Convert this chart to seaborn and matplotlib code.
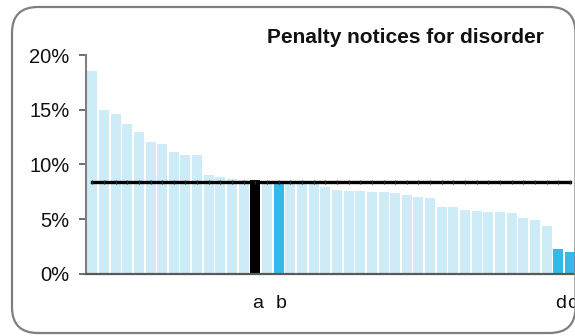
import matplotlib
matplotlib.use("Agg")
import matplotlib.pyplot as plt
import numpy as np
import pandas as pd
import seaborn as sns
from matplotlib.patches import FancyBboxPatch
from matplotlib.ticker import FuncFormatter
from matplotlib.transforms import ScaledTranslation

# Share of penalty notices issued for disorder, one bar per area (sorted)
area_ids = [f"A{i:02d}" for i in range(1, 43)]
disorder_rate = [
    18.6, 14.95, 14.6, 13.75, 13.0, 12.1, 11.9, 11.1, 10.9, 10.9,
    9.0, 8.9, 8.7, 8.62, 8.62, 8.4, 8.4, 8.35, 8.35, 8.3,
    7.98, 7.71, 7.61, 7.61, 7.52, 7.52, 7.43, 7.25, 7.06, 6.97,
    6.15, 6.15, 5.87, 5.78, 5.69, 5.69, 5.6, 5.14, 4.95, 4.4,
    2.29, 2.02,
]
area_labels = [""] * 14 + ["a", "", "b"] + [""] * 23 + ["d", "c"]
area_group = ["other"] * 14 + ["focus", "other", "peer"] + ["other"] * 23 + ["peer", "peer"]
average_rate = [8.38] * 42

group_colors = {"other": "#cdecf8", "focus": "#000000", "peer": "#35b9e9"}

df = pd.DataFrame({
    "area": area_ids,
    "rate": disorder_rate,
    "group": area_group,
    "average": average_rate,
})

plt.rcParams["font.family"] = ["Liberation Sans", "DejaVu Sans"]

fig = plt.figure(figsize=(5.75, 3.36), dpi=100)
ax = fig.add_axes([86 / 575, 62.3 / 336, 530.5 / 575, 218.4 / 336])

sns.barplot(data=df, x="area", y="rate", hue="group", palette=group_colors,
            dodge=False, width=0.86, linewidth=0, saturation=1,
            legend=False, ax=ax, zorder=2)

sns.lineplot(x=np.arange(len(df)), y=df["average"], color="black", lw=2.4,
             marker="|", markersize=3, markeredgewidth=0.8,
             markeredgecolor="#2a2a2a", ax=ax, zorder=3)

ax.set_xlim(-0.54, 45)
ax.set_ylim(0, 20)
ax.set_yticks([0, 5, 10, 15, 20])
ax.yaxis.set_major_formatter(FuncFormatter(lambda v, _: f"{v:.0f}%"))
ax.set_xticks(range(len(area_labels)))
ax.set_xticklabels(area_labels)
ax.set_xlabel("")
ax.set_ylabel("")

ax.tick_params(axis="y", length=5, width=1.2, color="#555555", pad=7,
               labelsize=14.5, labelcolor="#111111")
ax.tick_params(axis="x", length=0, pad=15, labelsize=14, labelcolor="#111111")
shift = ScaledTranslation(2 / 100, 0, fig.dpi_scale_trans)
for lbl in ax.get_xticklabels():
    lbl.set_transform(lbl.get_transform() + shift)

for side in ("top", "right"):
    ax.spines[side].set_visible(False)
ax.spines["left"].set_color("#808080")
ax.spines["left"].set_linewidth(1.5)
ax.spines["bottom"].set_color("#5a5a5a")
ax.spines["bottom"].set_linewidth(1.6)
ax.spines["bottom"].set_zorder(4)

fig.text(405.5 / 575, 1 - 43.3 / 336, "Penalty notices for disorder",
         ha="center", va="baseline", fontsize=15, fontweight="bold",
         color="#111111")

frame = FancyBboxPatch((12 / 575, 3 / 336), 563.5 / 575, 326 / 336,
                       boxstyle="round,pad=0,rounding_size=0.045",
                       transform=fig.transFigure, facecolor="none",
                       edgecolor="#7f7f7f", linewidth=1.6, zorder=10,
                       mutation_aspect=575 / 336)
fig.patches.append(frame)

fig.savefig("out.png", dpi=100)
